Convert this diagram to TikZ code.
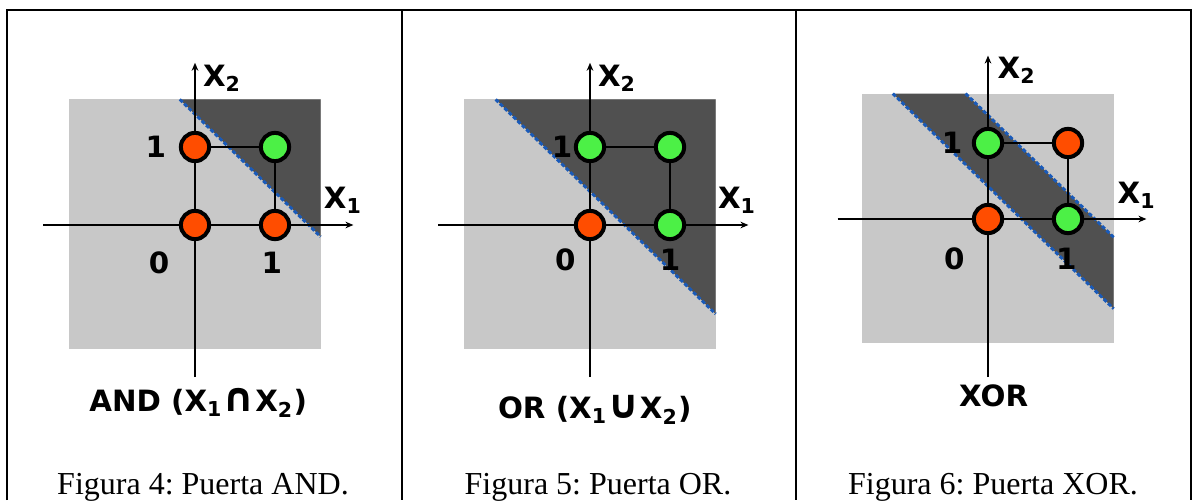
\documentclass[tikz,border=0pt]{standalone}
\usepackage{fontspec}
\setmainfont{Liberation Serif}
\newfontfamily\etqfont{DejaVu Sans}
\usepackage{tikz}
\usetikzlibrary{arrows.meta}
\definecolor{fondo}{RGB}{200,200,200}
\definecolor{oscuro}{RGB}{80,80,80}
\definecolor{frontera}{RGB}{25,90,185}
\definecolor{naranja}{RGB}{255,77,0}
\definecolor{verde}{RGB}{76,240,70}
\newcommand{\grande}[1]{{\fontsize{15}{15}\selectfont #1}}
\frenchspacing

\begin{document}
\begin{tikzpicture}[x=0.375pt, y=-0.375pt,
    eje/.style={line width=0.9pt, -{Stealth[length=3pt,width=2.5pt]}},
    lado/.style={line width=0.7pt},
    borde/.style={line width=1.1pt, frontera, dash pattern=on 1.5pt off 0.8pt},
    cero/.style={circle, draw=black, line width=1.5pt, fill=naranja, minimum size=10.6pt, inner sep=0pt},
    uno/.style={cero, fill=verde},
    etq/.style={font=\etqfont\bfseries\fontsize{11}{13}\selectfont, inner sep=0pt},
    pie/.style={font=\fontsize{12}{14}\selectfont, anchor=base, inner sep=0pt}]
    \useasboundingbox (0,0) rectangle (1195,500);

    % Table frame
    \draw[line width=0.5pt] (7,500) -- (7,10) -- (1191,10) -- (1191,500);
    \draw[line width=0.5pt] (402,10) -- (402,500);
    \draw[line width=0.5pt] (796,10) -- (796,500);

    % AND
    \begin{scope}[shift={(195,225)}, x=30pt, y=29.25pt]
        \fill[fondo] (-1.57,-1.59) rectangle (1.57,1.61);
        \fill[oscuro] (-0.19,1.61) -- (1.57,1.61) -- (1.57,-0.15) -- cycle;
        \draw[borde] (-0.19,1.61) -- (1.57,-0.15);
        % Axes
        \draw[eje] (-1.9,0) -- (1.98,0);
        \draw[eje] (0,-1.95) -- (0,2.08);
        % Inputs
        \node[cero] (a00) at (0,0) {};
        \node[cero] (a10) at (1,0) {};
        \node[cero] (a01) at (0,1) {};
        \node[uno] (a11) at (1,1) {};
        \draw[lado] (a01) -- (a11) -- (a10);
        % Labels
        \node[etq] (a1y) at (-0.49,1) {1};
        \node[etq] (a0) at (-0.45,-0.49) {0};
        \node[etq] (a1x) at (0.96,-0.49) {1};
        \node[etq] (ax2) at (0.34,1.885) {X\textsubscript{2}};
        \node[etq] (ax1) at (1.85,0.32) {X\textsubscript{1}};
        \node[etq] (atit) at (0.04,-2.28) {AND (X\textsubscript{1}\grande{∩}X\textsubscript{2})};
    \end{scope}

    % OR
    \begin{scope}[shift={(590,225)}, x=30pt, y=29.25pt]
        \fill[fondo] (-1.57,-1.59) rectangle (1.57,1.61);
        \fill[oscuro] (-1.18,1.61) -- (1.57,1.61) -- (1.57,-1.14) -- cycle;
        \draw[borde] (-1.18,1.61) -- (1.57,-1.14);
        % Axes
        \draw[eje] (-1.9,0) -- (1.98,0);
        \draw[eje] (0,-1.95) -- (0,2.08);
        % Inputs
        \node[cero] (o00) at (0,0) {};
        \node[uno] (o10) at (1,0) {};
        \node[uno] (o01) at (0,1) {};
        \node[uno] (o11) at (1,1) {};
        \draw[lado] (o01) -- (o11) -- (o10);
        % Labels
        \node[etq] (o1y) at (-0.35,1) {1};
        \node[etq] (o0) at (-0.31,-0.45) {0};
        \node[etq] (o1x) at (1.0,-0.45) {1};
        \node[etq] (ox2) at (0.34,1.885) {X\textsubscript{2}};
        \node[etq] (ox1) at (1.84,0.32) {X\textsubscript{1}};
        \node[etq] (otit) at (0.06,-2.37) {OR (X\textsubscript{1}\grande{∪}X\textsubscript{2})};
    \end{scope}

    % XOR
    \begin{scope}[shift={(988,219)}, x=30pt, y=28.5pt]
        \fill[fondo] (-1.57,-1.63) rectangle (1.57,1.65);
        \fill[oscuro] (-1.19,1.65) -- (-0.28,1.65) -- (1.57,-0.24) -- (1.57,-1.18) -- cycle;
        \draw[borde] (-1.19,1.65) -- (1.57,-1.18);
        \draw[borde] (-0.28,1.65) -- (1.57,-0.24);
        % Axes
        \draw[eje] (-1.88,0) -- (1.98,0);
        \draw[eje] (0,-2.08) -- (0,2.15);
        % Inputs
        \node[cero] (x00) at (0,0) {};
        \node[uno] (x10) at (1,0) {};
        \node[uno] (x01) at (0,1) {};
        \node[cero] (x11) at (1,1) {};
        \draw[lado] (x01) -- (x11) -- (x10);
        % Labels
        \node[etq] (x1y) at (-0.45,1) {1};
        \node[etq] (x0) at (-0.42,-0.53) {0};
        \node[etq] (x1x) at (0.98,-0.53) {1};
        \node[etq] (xx2) at (0.36,1.96) {X\textsubscript{2}};
        \node[etq] (xx1) at (1.86,0.31) {X\textsubscript{1}};
        \node[etq] (xtit) at (0.07,-2.32) {XOR};
    \end{scope}

    % Captions
    \node[pie] (pie4) at (203,494) {Figura 4: Puerta AND.};
    \node[pie] (pie5) at (598,494) {Figura 5: Puerta OR.};
    \node[pie] (pie6) at (993,494) {Figura 6: Puerta XOR.};
\end{tikzpicture}
\end{document}
